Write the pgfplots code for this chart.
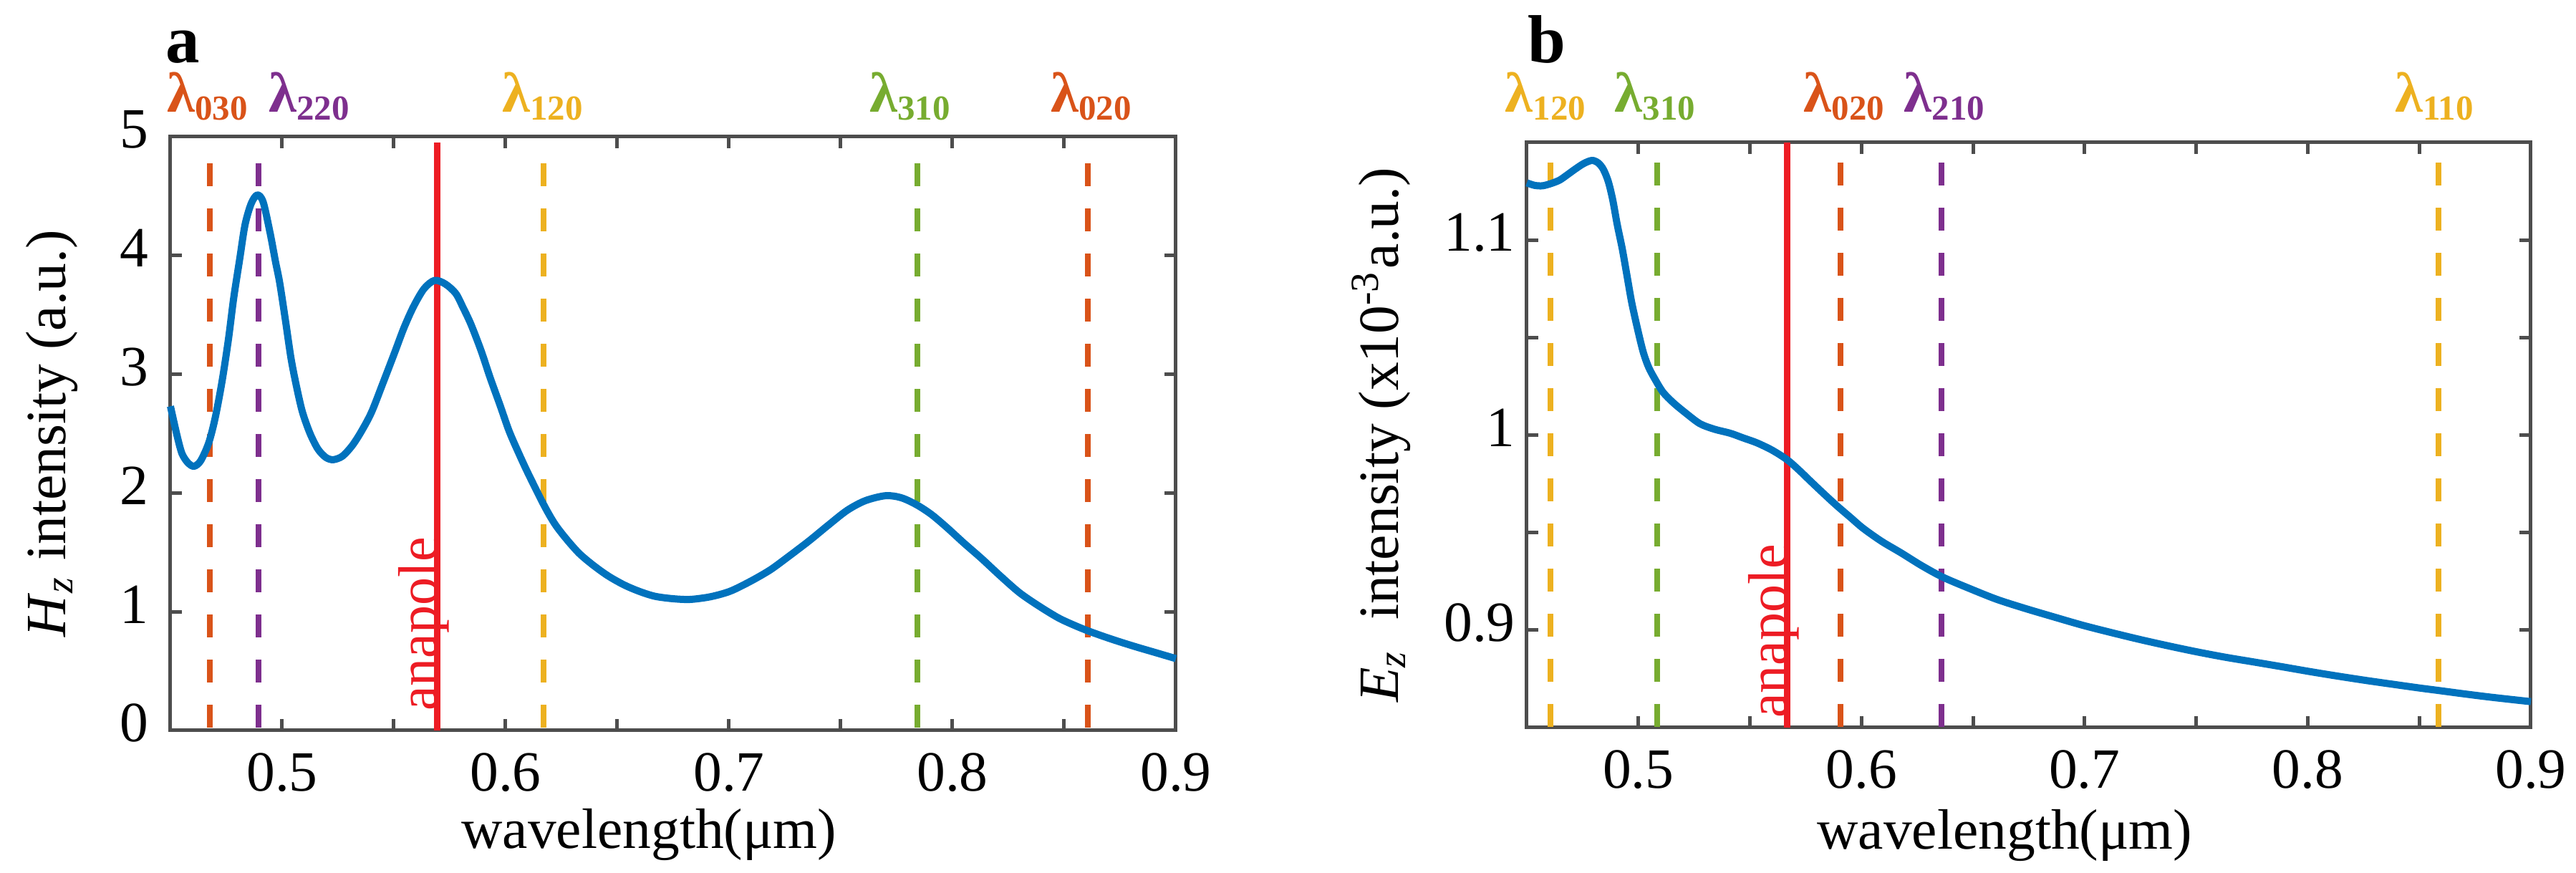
\documentclass[border=0pt]{standalone}
\usepackage{fontspec}
\setmainfont{Liberation Serif}
\newfontfamily\tnr{Liberation Serif}
\usepackage{pgfplots}
\pgfplotsset{compat=1.18}
\definecolor{cblue}{HTML}{0072BD}
\definecolor{corange}{HTML}{D95319}
\definecolor{cyellow}{HTML}{EDB120}
\definecolor{cpurple}{HTML}{7E2F8E}
\definecolor{cgreen}{HTML}{77AC30}
\definecolor{cred}{HTML}{ED1C24}
\definecolor{axgray}{HTML}{4D4D4D}
\newcommand{\lam}[1]{{\tnr\bfseries\fontsize{7.9}{9}\selectfont λ\raisebox{-1.1pt}{\fontsize{4.9}{5}\selectfont #1}}}
\pgfplotsset{
  every axis/.append style={
    scale only axis,
    axis line style={color=axgray, line width=0.5pt},
    every tick/.style={color=axgray, line width=0.5pt},
    major tick length=1.6pt,
    tick align=inside,
    tick label style={font=\tnr\fontsize{7.95}{9.5}\selectfont, text=black},
    label style={font=\tnr\fontsize{7.95}{9.5}\selectfont},
    xticklabel style={yshift=0.4pt},
    clip=false,
    /pgf/number format/assume math mode=true,
    xmin=0.45, xmax=0.9,
    xtick={0.5,0.55,0.6,0.65,0.7,0.75,0.8,0.85,0.9},
    xticklabels={0.5,,0.6,,0.7,,0.8,,0.9},
  },
  dline/.style={line width=0.8pt, dash pattern=on 3.2pt off 3.1pt},
  curve/.style={color=cblue, line width=1pt, smooth, tension=0.5, line join=round},
}
\begin{document}
\begin{tikzpicture}
\path[use as bounding box] (0,0) rectangle (359.7pt,121.9pt);

% ---------------- panel a ----------------
\begin{axis}[
  at={(23.8pt,19.9pt)}, anchor=south west,
  width=140.4pt, height=82.9pt,
  ymin=0, ymax=5,
  ytick={0,1,2,3,4,5}, yticklabels={0,1,2,3,4,5},
  yticklabel style={xshift=0.5pt, yshift=1pt},
  xlabel={wavelength(μm)},
  xlabel style={at={(axis description cs:0.476,-0.199)}, anchor=base},
  ylabel={\textit{H}\textsubscript{\textit{z}} intensity (a.u.)},
  ylabel style={at={(axis description cs:-0.104,0.5)}, anchor=base},
]
\addplot[cred, line width=0.85pt] coordinates {(0.5694,0) (0.5694,4.95)};
\addplot[corange, dline] coordinates {(0.4675,4.774) (0.4675,0)};
\addplot[cpurple, dline] coordinates {(0.4894,4.774) (0.4894,0)};
\addplot[cyellow, dline] coordinates {(0.6171,4.774) (0.6171,0)};
\addplot[cgreen, dline] coordinates {(0.7843,4.774) (0.7843,0)};
\addplot[corange, dline] coordinates {(0.8605,4.774) (0.8605,0)};
\addplot[curve] coordinates {
(0.4500,2.73) (0.4530,2.48) (0.4552,2.33) (0.4580,2.25) (0.4606,2.225)
(0.4635,2.27) (0.4671,2.42) (0.4700,2.63) (0.4731,2.94) (0.4760,3.30)
(0.4783,3.64) (0.4810,3.97) (0.4834,4.26) (0.4862,4.44) (0.4889,4.51)
(0.4915,4.45) (0.4946,4.19) (0.4970,3.95) (0.4989,3.77) (0.5015,3.45)
(0.5040,3.13) (0.5065,2.89) (0.5091,2.68) (0.5125,2.50) (0.5160,2.37)
(0.5195,2.30) (0.5228,2.28) (0.5270,2.31) (0.5314,2.40) (0.5355,2.52)
(0.5400,2.68) (0.5450,2.92) (0.5503,3.18) (0.5545,3.39) (0.5588,3.57)
(0.5635,3.72) (0.5682,3.79) (0.5730,3.76) (0.5777,3.68) (0.5810,3.56)
(0.5845,3.42) (0.5890,3.20) (0.5931,2.97) (0.5975,2.74) (0.6016,2.52)
(0.6060,2.33) (0.6102,2.16) (0.6171,1.90) (0.6220,1.74) (0.6273,1.61)
(0.6330,1.49) (0.6393,1.39) (0.6460,1.30) (0.6531,1.225) (0.6600,1.17)
(0.6668,1.13) (0.6745,1.11) (0.6822,1.103) (0.6900,1.12) (0.6959,1.145)
(0.7015,1.18) (0.7100,1.26) (0.7186,1.354) (0.7270,1.47) (0.7358,1.596)
(0.7445,1.73) (0.7529,1.854) (0.7610,1.935) (0.7701,1.977) (0.7770,1.96)
(0.7838,1.902) (0.7905,1.82) (0.7975,1.709) (0.8050,1.58) (0.8129,1.45)
(0.8215,1.30) (0.8300,1.16) (0.8385,1.05) (0.8472,0.95) (0.8540,0.89)
(0.8609,0.837) (0.8710,0.77) (0.8814,0.708) (0.8910,0.655) (0.9000,0.605)
};
\node[rotate=90, anchor=base west, inner sep=0pt, text=cred, font=\tnr\fontsize{7.8}{9}\selectfont] at (axis cs:0.5694,0.26) [xshift=-1.8pt] {anapole};
\node[anchor=base, inner sep=0pt, text=corange] at (axis cs:0.4666,5) [yshift=3.4pt] {\lam{030}};
\node[anchor=base, inner sep=0pt, text=cpurple] at (axis cs:0.5120,5) [yshift=3.4pt] {\lam{220}};
\node[anchor=base, inner sep=0pt, text=cyellow] at (axis cs:0.6166,5) [yshift=3.4pt] {\lam{120}};
\node[anchor=base, inner sep=0pt, text=cgreen] at (axis cs:0.7810,5) [yshift=3.4pt] {\lam{310}};
\node[anchor=base, inner sep=0pt, text=corange] at (axis cs:0.8620,5) [yshift=3.4pt] {\lam{020}};
\node[anchor=base west, inner sep=0pt, font=\tnr\fontsize{9.5}{11}\selectfont\bfseries] at (rel axis cs:0,1) [xshift=-0.8pt, yshift=10.3pt] {a};
\end{axis}

% ---------------- panel b ----------------
\begin{axis}[
  at={(213.2pt,20.3pt)}, anchor=south west,
  width=140.2pt, height=81.7pt,
  ymin=0.85, ymax=1.15,
  ytick={0.9,0.95,1,1.05,1.1}, yticklabels={0.9,,1,,1.1},
  yticklabel style={xshift=1.9pt, yshift=1pt},
  xlabel={wavelength(μm)},
  xlabel style={at={(axis description cs:0.476,-0.207)}, anchor=base},
  ylabel={\textit{E}\textsubscript{\textit{z}}\ \ intensity (x10\textsuperscript{-3}a.u.)},
  ylabel style={at={(axis description cs:-0.128,0.5)}, anchor=base},
]
\addplot[cred, line width=0.85pt] coordinates {(0.5667,0.85) (0.5667,1.15)};
\addplot[cyellow, dline] coordinates {(0.4607,1.1397) (0.4607,0.85)};
\addplot[cgreen, dline] coordinates {(0.5084,1.1397) (0.5084,0.85)};
\addplot[corange, dline] coordinates {(0.5905,1.1397) (0.5905,0.85)};
\addplot[cpurple, dline] coordinates {(0.6358,1.1397) (0.6358,0.85)};
\addplot[cyellow, dline] coordinates {(0.8586,1.1397) (0.8586,0.85)};
\addplot[curve] coordinates {
(0.4500,1.1293) (0.4535,1.1280) (0.4571,1.1278) (0.4610,1.1290) (0.4647,1.1307)
(0.4680,1.1333) (0.4715,1.1362) (0.4755,1.1392) (0.4792,1.1408) (0.4820,1.1395)
(0.4843,1.1362) (0.4865,1.1300) (0.4885,1.1206) (0.4905,1.1080) (0.4928,1.0953)
(0.4950,1.0810) (0.4970,1.0680) (0.4995,1.0550) (0.5021,1.0428) (0.5045,1.0350)
(0.5072,1.0291) (0.5110,1.0220) (0.5157,1.0165) (0.5215,1.0110) (0.5276,1.0058)
(0.5340,1.0030) (0.5412,1.0009) (0.5470,0.9985) (0.5531,0.9960) (0.5600,0.9922)
(0.5667,0.9873) (0.5720,0.9820) (0.5769,0.9766) (0.5830,0.9700) (0.5888,0.9639)
(0.5950,0.9578) (0.6007,0.9522) (0.6090,0.9455) (0.6177,0.9396) (0.6270,0.9330)
(0.6363,0.9272) (0.6480,0.9215) (0.6605,0.9158) (0.6730,0.9112) (0.6860,0.9068)
(0.6990,0.9025) (0.7120,0.8987) (0.7250,0.8951) (0.7375,0.8919) (0.7500,0.8889)
(0.7629,0.8861) (0.7760,0.8836) (0.7884,0.8812) (0.8010,0.8787) (0.8139,0.8763)
(0.8265,0.8741) (0.8394,0.8720) (0.8500,0.8703) (0.8581,0.8691) (0.8700,0.8673)
(0.8819,0.8656) (0.9000,0.8633)
};
\node[rotate=90, anchor=base west, inner sep=0pt, text=cred, font=\tnr\fontsize{7.8}{9}\selectfont] at (axis cs:0.5667,0.8636) [xshift=-2.6pt] {anapole};
\node[anchor=base, inner sep=0pt, text=cyellow] at (axis cs:0.4583,1.15) [yshift=4.2pt] {\lam{120}};
\node[anchor=base, inner sep=0pt, text=cgreen] at (axis cs:0.5075,1.15) [yshift=4.2pt] {\lam{310}};
\node[anchor=base, inner sep=0pt, text=corange] at (axis cs:0.5922,1.15) [yshift=4.2pt] {\lam{020}};
\node[anchor=base, inner sep=0pt, text=cpurple] at (axis cs:0.6371,1.15) [yshift=4.2pt] {\lam{210}};
\node[anchor=base, inner sep=0pt, text=cyellow] at (axis cs:0.8567,1.15) [yshift=4.2pt] {\lam{110}};
\node[anchor=base west, inner sep=0pt, font=\tnr\fontsize{9.5}{11}\selectfont\bfseries] at (rel axis cs:0,1) [xshift=0pt, yshift=11.1pt] {b};
\end{axis}
\end{tikzpicture}
\end{document}
